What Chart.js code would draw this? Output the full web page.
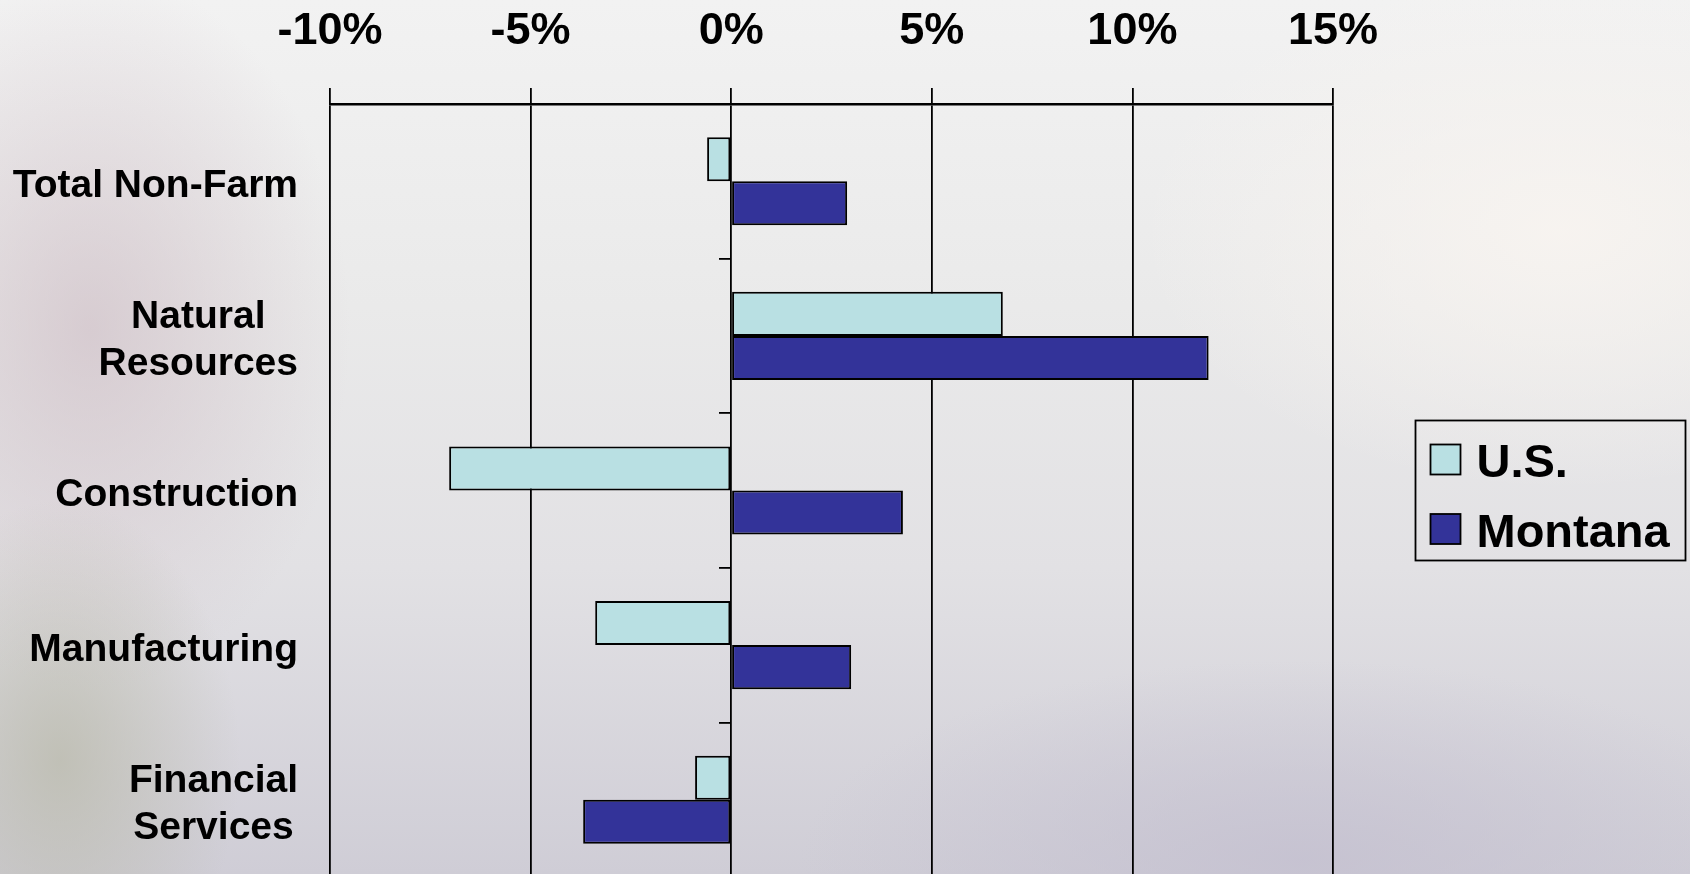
<!DOCTYPE html>
<html>
<head>
<meta charset="utf-8">
<title>Employment growth: U.S. vs Montana</title>
<script src="https://cdn.jsdelivr.net/npm/chart.js@4.4.1/dist/chart.umd.min.js"></script>
<style>
  html, body {
    margin: 0;
    padding: 0;
    width: 1690px;
    height: 874px;
    overflow: hidden;
  }
  body {
    background:
      radial-gradient(ellipse 180px 260px at 60px 760px, rgba(185, 185, 170, 0.75), rgba(185, 185, 170, 0) 100%),
      radial-gradient(ellipse 260px 360px at 90px 330px, rgba(205, 188, 196, 0.65), rgba(205, 188, 196, 0) 100%),
      radial-gradient(ellipse 420px 260px at 1560px 230px, rgba(248, 244, 240, 0.9), rgba(248, 244, 240, 0) 100%),
      radial-gradient(ellipse 500px 200px at 1300px 860px, rgba(196, 192, 208, 0.8), rgba(196, 192, 208, 0) 100%),
      linear-gradient(to bottom, #f2f2f2 0%, #eaeaea 35%, #e2e1e4 65%, #cfcdd6 100%);
  }
  #chart {
    display: block;
  }
</style>
</head>
<body>
<canvas id="chart" width="1690" height="880"></canvas>
<script>
const categories = [
  ["Total Non-Farm"],
  ["Natural", "Resources"],
  ["Construction"],
  ["Manufacturing"],
  ["Financial", "Services"],
];
const usValues = [-0.6, 6.77, -7.03, -3.39, -0.9];
const montanaValues = [2.89, 11.9, 4.28, 2.99, -3.69];
const seriesNames = ["U.S.", "Montana"];
const xTickValues = [-10, -5, 0, 5, 10, 15];

const FONT = "'Liberation Sans', Arial, sans-serif";

// category labels: lines centred on each other, block right-aligned to the axis
const categoryLabels = {
  id: "categoryLabels",
  afterDraw(chart) {
    const { ctx } = chart;
    const scale = chart.scales.y;
    const right = chart.chartArea.left - 32;
    const lineHeight = 47;
    ctx.save();
    ctx.font = `bold 39px ${FONT}`;
    ctx.fillStyle = "#000";
    ctx.textAlign = "center";
    ctx.textBaseline = "middle";
    categories.forEach((lines, i) => {
      const cy = scale.getPixelForValue(i) + 5;
      const maxW = Math.max(...lines.map((l) => ctx.measureText(l).width));
      const cx = right - maxW / 2;
      lines.forEach((line, j) => {
        ctx.fillText(line, cx, cy + (j - (lines.length - 1) / 2) * lineHeight);
      });
    });
    ctx.restore();
  },
};

// boxed legend on the right
const boxLegend = {
  id: "boxLegend",
  afterDraw(chart) {
    const { ctx } = chart;
    const left = chart.chartArea.right + 82.5;
    const top = 420.5;
    ctx.save();
    ctx.lineWidth = 1.8;
    ctx.strokeStyle = "#000";
    ctx.strokeRect(left, top, 270, 140);
    ctx.font = `bold 47px ${FONT}`;
    ctx.textBaseline = "middle";
    chart.data.datasets.forEach((ds, i) => {
      const sy = top + 24 + i * 69.5;
      ctx.fillStyle = ds.backgroundColor;
      ctx.fillRect(left + 15, sy, 30, 30);
      ctx.strokeRect(left + 15, sy, 30, 30);
      ctx.fillStyle = "#000";
      ctx.fillText(ds.label, left + 61, sy + 20);
    });
    ctx.restore();
  },
};

new Chart(document.getElementById("chart"), {
  type: "bar",
  data: {
    labels: categories.map((c) => c.join(" ")),
    datasets: [
      {
        label: seriesNames[0],
        data: usValues,
        backgroundColor: "#b9e0e3",
        borderColor: "#000",
        borderWidth: 2,
        borderSkipped: false,
        yAxisID: "y",
      },
      {
        label: seriesNames[1],
        data: montanaValues,
        backgroundColor: "#333399",
        borderColor: "#000",
        borderWidth: 2,
        borderSkipped: false,
        yAxisID: "y",
      },
    ],
  },
  options: {
    indexAxis: "y",
    responsive: false,
    animation: false,
    categoryPercentage: 0.57,
    barPercentage: 1.0,
    layout: { padding: { left: 0, right: 357, top: 0, bottom: 3 } },
    plugins: {
      legend: { display: false },
      tooltip: { enabled: false },
    },
    scales: {
      x: {
        type: "linear",
        position: "top",
        min: -10,
        max: 15,
        afterBuildTicks: (scale) => {
          scale.ticks = xTickValues.map((v) => ({ value: v }));
        },
        afterFit: (scale) => {
          scale.height = 104;
        },
        ticks: {
          color: "#000",
          padding: 29,
          font: { family: FONT, size: 45, weight: "bold" },
          callback: (v) => `${v}%`,
        },
        grid: {
          color: "#000",
          lineWidth: 1.8,
          tickLength: 16,
        },
        border: { display: true, color: "#000", width: 2.5 },
      },
      y: {
        type: "category",
        position: "left",
        offset: true,
        afterFit: (scale) => {
          scale.width = 330;
        },
        ticks: { display: false },
        grid: { display: false, offset: true },
        border: { display: false },
      },
      y2: {
        type: "category",
        position: { x: 0 },
        offset: true,
        ticks: { display: false },
        grid: {
          offset: true,
          drawOnChartArea: false,
          drawTicks: true,
          tickLength: 12,
          color: "#000",
          lineWidth: 1.8,
        },
        border: { display: false },
      },
    },
  },
  plugins: [categoryLabels, boxLegend],
});
</script>
</body>
</html>
